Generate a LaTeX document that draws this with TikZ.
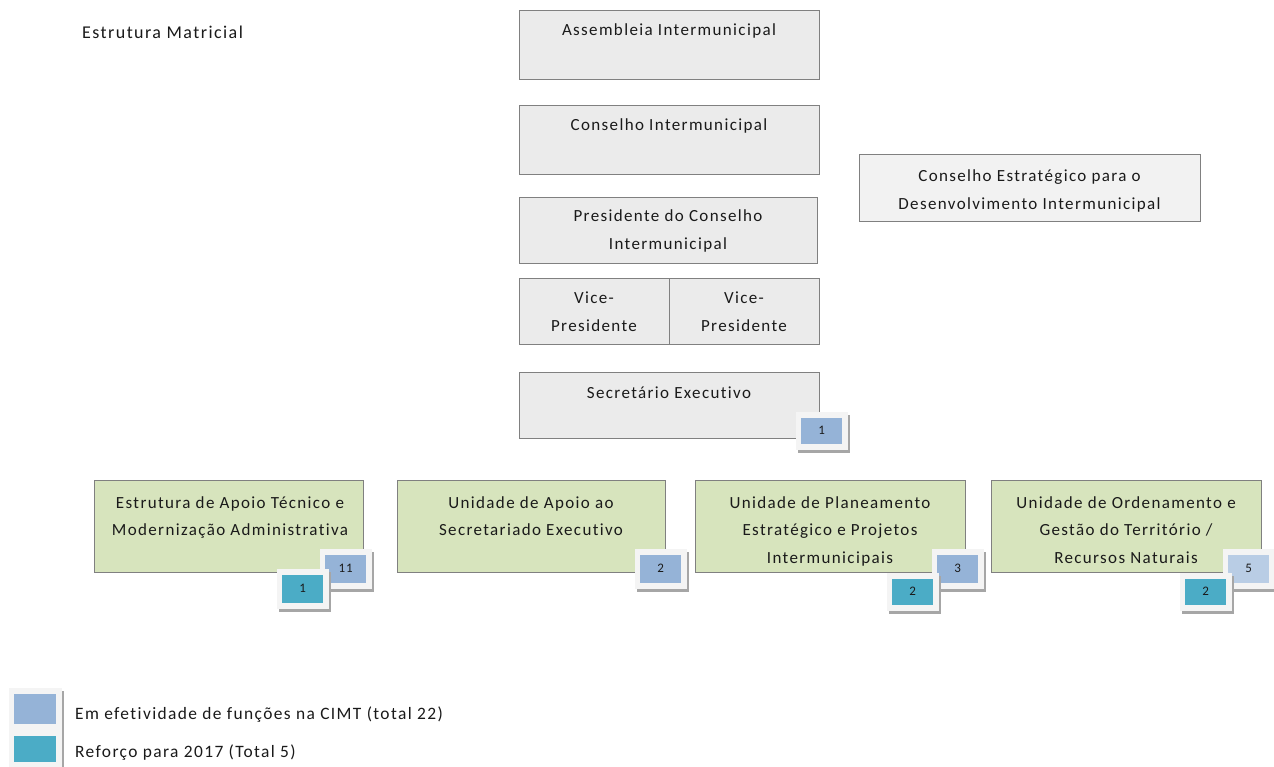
\documentclass[tikz,border=0pt]{standalone}
\usepackage{fontspec}
\setmainfont{Carlito}[LetterSpace=8, Ligatures=NoCommon]
\definecolor{boxgray}{HTML}{EBEBEB}
\definecolor{boxlight}{HTML}{F2F2F2}
\definecolor{boxline}{HTML}{808080}
\definecolor{boxgreen}{HTML}{D7E4BD}
\definecolor{cblue}{HTML}{95B3D7}
\definecolor{cteal}{HTML}{4BACC6}
\definecolor{clblue}{HTML}{B9CDE5}
\definecolor{framefill}{HTML}{F4F4F4}
\definecolor{shadowgray}{HTML}{A6A6A6}
\definecolor{txt}{HTML}{1A1A1A}
\tikzset{
  x=1pt,y=-1pt,
  orgbox/.style={draw=boxline, fill=boxgray, line width=0.9pt, anchor=north west, inner sep=0pt},
  greenbox/.style={orgbox, fill=boxgreen},
  lbl/.style={anchor=base, align=center, inner sep=0pt, text=txt, font=\fontsize{17}{27.5}\selectfont},
  badgeframe/.style={fill=framefill, anchor=north west, inner sep=0pt},
  badgein/.style={anchor=north west, inner sep=0pt, text=txt, font=\fontsize{13}{14}\selectfont},
}
\newcommand\mybadge[7]{%
  \fill[shadowgray] (#2+2,#3+3) rectangle (#4+2,#5+3);
  \node[badgeframe, minimum width={(#4-#2)*1pt}, minimum height={(#5-#3)*1pt}] (#1f) at (#2,#3) {};
  \node[badgein, fill=#6, minimum width={(#4-#2-11)*1pt}, minimum height={(#5-#3-12)*1pt}] (#1) at (#2+5,#3+5.5) {#7};
}
\begin{document}
\begin{tikzpicture}
\useasboundingbox[fill=white] (0,0) rectangle (1274,766);

\node[anchor=base west, inner sep=0pt, text=txt, font=\fontsize{18}{20}\selectfont] (title) at (82,38) {Estrutura Matricial};

% top chain
\node[orgbox, minimum width=300pt, minimum height=69pt] (asm) at (519,10) {};
\node[lbl] (asmt) at (669,35) {Assembleia Intermunicipal};

\node[orgbox, minimum width=300pt, minimum height=69pt] (ci) at (519,105) {};
\node[lbl] (cit) at (669,130) {Conselho Intermunicipal};

\node[orgbox, fill=boxlight, minimum width=341pt, minimum height=67pt] (ce) at (859,154) {};
\node[lbl] (cet) at (1029.5,209) {Conselho Estratégico para o\\Desenvolvimento Intermunicipal};

\node[orgbox, minimum width=298pt, minimum height=66pt] (pres) at (519,197) {};
\node[lbl] (prest) at (668,249) {Presidente do Conselho\\Intermunicipal};

\node[orgbox, minimum width=150pt, minimum height=66pt] (vp1) at (519,278) {};
\node[lbl] (vp1t) at (594,331) {Vice-\\Presidente};
\node[orgbox, minimum width=150pt, minimum height=66pt] (vp2) at (669,278) {};
\node[lbl] (vp2t) at (744,331) {Vice-\\Presidente};

\node[orgbox, minimum width=300pt, minimum height=66pt] (sec) at (519,372) {};
\node[lbl] (sect) at (669,398) {Secretário Executivo};

% units
\node[greenbox, minimum width=269pt, minimum height=92pt] (g1) at (94,480) {};
\node[lbl] (g1t) at (230,535.5) {Estrutura de Apoio Técnico e\\Modernização Administrativa};
\node[greenbox, minimum width=268pt, minimum height=92pt] (g2) at (397,480) {};
\node[lbl] (g2t) at (531,535.5) {Unidade de Apoio ao\\Secretariado Executivo};
\node[greenbox, minimum width=270pt, minimum height=92pt] (g3) at (695,480) {};
\node[lbl] (g3t) at (830,563) {Unidade de Planeamento\\Estratégico e Projetos\\Intermunicipais};
\node[greenbox, minimum width=270pt, minimum height=92pt] (g4) at (991,480) {};
\node[lbl] (g4t) at (1126,563) {Unidade de Ordenamento e\\Gestão do Território /\\Recursos Naturais};

% badges
\mybadge{bsec}{796}{412}{848}{450}{cblue}{1}
\mybadge{bga}{320}{549}{372}{589}{cblue}{11}
\mybadge{bgb}{277}{569}{329}{609}{cteal}{1}
\mybadge{bgc}{635}{549}{687}{589}{cblue}{2}
\mybadge{bgd}{932}{549}{984}{589}{cblue}{3}
\mybadge{bge}{887}{573}{939}{611}{cteal}{2}
\mybadge{bgf}{1223}{549}{1275}{589}{clblue}{5}
\mybadge{bgg}{1180}{573}{1232}{611}{cteal}{2}

% legend
\mybadge{lga}{9}{688}{62}{730}{cblue}{}
\mybadge{lgb}{9}{730}{62}{768}{cteal}{}
\node[anchor=base west, inner sep=0pt, text=txt, font=\fontsize{17.4}{20}\selectfont] (lgat) at (75,719) {Em efetividade de funções na CIMT (total 22)};
\node[anchor=base west, inner sep=0pt, text=txt, font=\fontsize{17.4}{20}\selectfont] (lgbt) at (75,757) {Reforço para 2017 (Total 5)};
\end{tikzpicture}
\end{document}
